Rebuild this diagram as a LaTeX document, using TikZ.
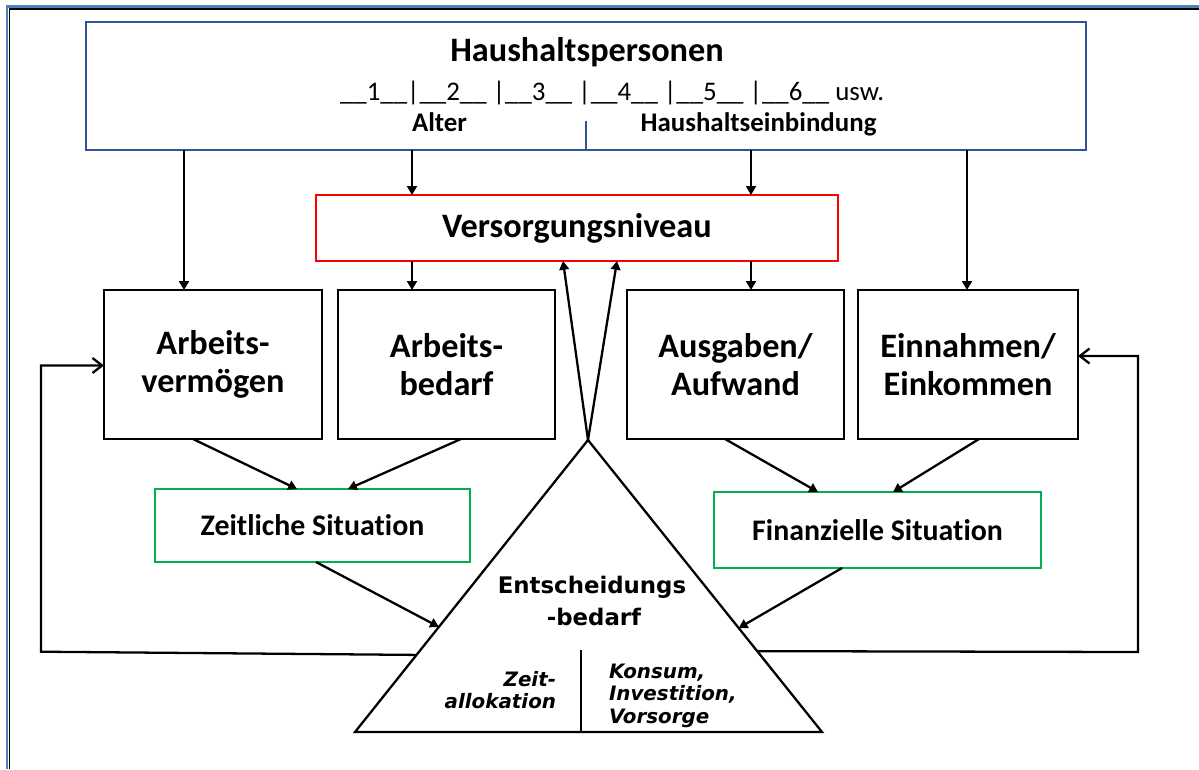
\documentclass[tikz,border=0pt]{standalone}
\usepackage{fontspec}
\setmainfont{Carlito}[Ligatures=NoCommon]
\newfontfamily\dvfont{DejaVu Sans}
\usetikzlibrary{arrows.meta,calc}
\definecolor{frameblue}{HTML}{4F81BD}
\definecolor{boxblue}{HTML}{2F5597}
\definecolor{boxgreen}{HTML}{00B050}
\definecolor{boxred}{HTML}{FF0000}
\tikzset{
  px/.style={x=0.02cm,y=-0.02cm},
  blackbox/.style={draw=black,line width=1.3pt,inner sep=0pt,outer sep=0pt,align=center,
    font=\fontsize{19.5}{21.5}\selectfont\bfseries},
  greenbox/.style={draw=boxgreen,line width=1.3pt,inner sep=0pt,outer sep=0pt,align=center,
    font=\fontsize{17}{19}\selectfont\bfseries},
  redbox/.style={draw=boxred,line width=1.3pt,inner sep=0pt,outer sep=0pt,align=center,
    font=\fontsize{19.5}{21.5}\selectfont\bfseries},
  bluebox/.style={draw=boxblue,line width=1.2pt,inner sep=0pt,outer sep=0pt},
  txt/.style={inner sep=0pt,outer sep=0pt},
  bigtxt/.style={txt,font=\fontsize{19.5}{21.5}\selectfont\bfseries},
  midtxt/.style={txt,font=\fontsize{15.3}{17}\selectfont},
  midbtxt/.style={txt,font=\fontsize{15.3}{17}\selectfont\bfseries},
  enttxt/.style={txt,font=\dvfont\fontsize{13}{18}\selectfont\bfseries},
  ittxt/.style={txt,font=\dvfont\fontsize{11.3}{12.8}\selectfont\bfseries\itshape},
  conn/.style={draw=black,line width=1.3pt},
  arr/.style={conn,-{Triangle[length=5pt,width=5.5pt]}},
  oarr/.style={conn,-{Straight Barb[length=5.5pt,width=8.5pt]},line join=miter},
}
\begin{document}
\begin{tikzpicture}[px]
\useasboundingbox (0,0) rectangle (1199,769);
% outer frame
\draw[frameblue,line width=1.2pt] (7,769) -- (7,6.5) -- (1199,6.5);
\draw[black,line width=1.1pt] (9.5,769) -- (9.5,9) -- (1199,9);

% top box
\node[bluebox,minimum width=20cm,minimum height=2.56cm] (HH) at (586,86) {};
\node[bigtxt,anchor=base] (HHt) at (587,61.7) {Haushaltspersonen};
\node[midtxt,anchor=base west] (HHn) at (340,100.5) {\_\_1\_\_|\_\_2\_\_ |\_\_3\_\_ |\_\_4\_\_ |\_\_5\_\_ |\_\_6\_\_ usw.};
\node[midbtxt,anchor=base] (HHa) at (439.5,131.5) {Alter};
\node[midbtxt,anchor=base] (HHe) at (758.5,131.5) {Haushaltseinbindung};
\draw[boxblue,line width=1.2pt] (HH.south) -- ++(0,-29);

% Versorgungsniveau
\node[redbox,minimum width=10.44cm,minimum height=1.32cm] (VN) at (577,228) {Versorgungsniveau};

% four boxes
\node[blackbox,minimum width=4.36cm,minimum height=2.98cm] (AV) at (213,364.5) {Arbeits-\\vermögen};
\node[blackbox,minimum width=4.34cm,minimum height=2.98cm] (AB) at (446.5,364.5) {Arbeits-\\bedarf};
\node[blackbox,minimum width=4.34cm,minimum height=2.98cm] (AU) at (735.5,364.5) {Ausgaben/\\Aufwand};
\node[blackbox,minimum width=4.40cm,minimum height=2.98cm] (EI) at (968,364.5) {Einnahmen/\\Einkommen};

% situation boxes
\node[greenbox,minimum width=6.3cm,minimum height=1.46cm] (ZS) at (312.5,525.5) {Zeitliche Situation};
\node[greenbox,minimum width=6.54cm,minimum height=1.52cm] (FS) at (877.5,530) {Finanzielle Situation};

% triangle
\coordinate (apex) at (588,440);
\coordinate (bl) at (355,732);
\coordinate (br) at (822,732);
\draw[conn,line join=miter] (apex) -- (bl) -- (br) -- cycle;
\coordinate (divtop) at (581,650);
\draw[conn] (divtop) -- (divtop |- bl);
\node[enttxt,anchor=base] (E1) at (592,593.3) {Entscheidungs};
\node[enttxt,anchor=base] (E2) at (594,625.7) {-bedarf};
\node[ittxt,anchor=base east] (Z1) at (556,686.7) {Zeit-};
\node[ittxt,anchor=base east] (Z2) at (556,708.3) {allokation};
\node[ittxt,anchor=base west] (K1) at (609,678) {Konsum,};
\node[ittxt,anchor=base west] (K2) at (609,700.5) {Investition,};
\node[ittxt,anchor=base west] (K3) at (609,723) {Vorsorge};

% vertical arrows from top box
\draw[arr] (HH.south -| 184,0) -- (AV.north -| 184,0);
\draw[arr] (HH.south -| 412,0) -- (VN.north -| 412,0);
\draw[arr] (VN.south -| 412,0) -- (AB.north -| 412,0);
\draw[arr] (HH.south -| 751,0) -- (VN.north -| 751,0);
\draw[arr] (VN.south -| 751,0) -- (AU.north -| 751,0);
\draw[arr] (HH.south -| 967,0) -- (EI.north -| 967,0);

% diagonal arrows
\draw[arr] (AV.south -| 193,0) -- (ZS.north -| 297,0);
\draw[arr] (AB.south -| 461,0) -- (ZS.north -| 348,0);
\draw[arr] (AU.south -| 725,0) -- (FS.north -| 818,0);
\draw[arr] (EI.south -| 979,0) -- (FS.north -| 893,0);

% apex to Versorgungsniveau
\draw[arr] (apex) -- (VN.south -| 563,0);
\draw[arr] (apex) -- (VN.south -| 617,0);

% situations to triangle
\draw[arr] (ZS.south -| 316,0) -- ($(apex)!0.64!(bl)$);
\draw[arr] (FS.south -| 842,0) -- ($(apex)!0.644!(br)$);

% feedback loops
\coordinate (L1) at (41,651.7);
\coordinate (L2) at (41,365.5);
\draw[oarr] ($(apex)!0.736!(bl)$) -- (L1) -- (L2) -- (AV.west |- L2);
\coordinate (R1) at (1138,652);
\coordinate (R2) at (1138,356);
\draw[oarr] ($(apex)!0.723!(br)$) -- (R1) -- (R2) -- (EI.east |- R2);
\end{tikzpicture}
\end{document}
